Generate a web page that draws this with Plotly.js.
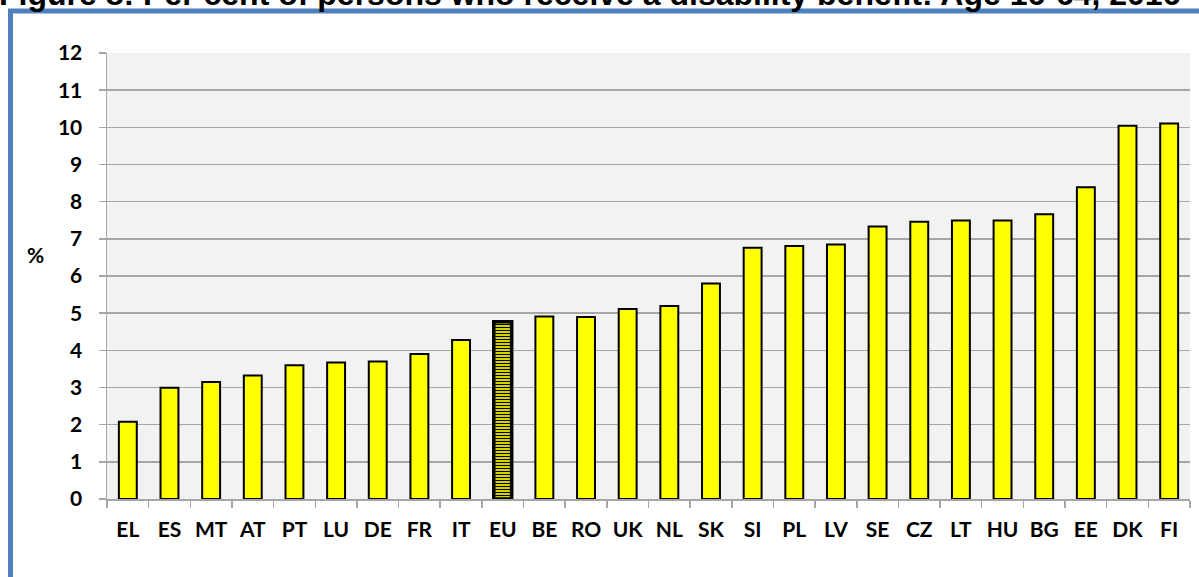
<!DOCTYPE html>
<html>
<head>
<meta charset="utf-8">
<script src="https://cdn.plot.ly/plotly-3.0.1.min.js"></script>
<style>
html,body{margin:0;padding:0;background:#fff;}
#chart{width:1199px;height:577px;}
</style>
</head>
<body>
<div id="chart"></div>
<script>
const countries = ["EL","ES","MT","AT","PT","LU","DE","FR","IT","EU","BE","RO","UK","NL","SK","SI","PL","LV","SE","CZ","LT","HU","BG","EE","DK","FI"];
const percentValues = [2.08,2.99,3.15,3.32,3.6,3.67,3.7,3.9,4.28,4.77,4.91,4.9,5.11,5.19,5.8,6.76,6.81,6.85,7.33,7.46,7.49,7.49,7.66,8.39,10.04,10.1];
const highlighted = "EU";
const titleText = "Figure 8: Per cent of persons who receive a disability benefit: Age 16-64, 2016";
const yTickValues = [0,1,2,3,4,5,6,7,8,9,10,11,12];

const patternShapes = countries.map(c => c === highlighted ? "-" : "");
const lineWidths = countries.map(c => c === highlighted ? 3.5 : 2);

const trace = {
  type: "bar",
  x: countries,
  y: percentValues,
  marker: {
    color: "#ffff00",
    line: {color: "#000000", width: lineWidths},
    pattern: {shape: patternShapes, fgcolor: "#000000", bgcolor: "#ffff00", size: 3, solidity: 0.45, fillmode: "replace"}
  },
  hoverinfo: "x+y"
};

const gridCol = "#a6a6a6";
const tickFont = {family: "Lato, 'Open Sans', sans-serif", size: 21, color: "#000000", weight: 700};

const layout = {
  width: 1199,
  height: 577,
  margin: {l: 107, r: 9, t: 53, b: 78, pad: 0},
  paper_bgcolor: "#ffffff",
  plot_bgcolor: "#f2f2f2",
  bargap: 0.57,
  showlegend: false,
  font: tickFont,
  xaxis: {
    type: "category",
    tickson: "boundaries",
    ticks: "outside",
    ticklen: 7,
    tickwidth: 1.5,
    tickcolor: gridCol,
    showline: true,
    linecolor: gridCol,
    linewidth: 1.5,
    showgrid: false,
    tickfont: tickFont,
    tickangle: 0,
    ticklabelstandoff: 11,
    fixedrange: true
  },
  yaxis: {
    range: [0, 12],
    tickvals: yTickValues,
    ticks: "outside",
    ticklen: 7,
    tickwidth: 1.5,
    tickcolor: gridCol,
    showline: true,
    linecolor: gridCol,
    linewidth: 1.5,
    showgrid: true,
    gridcolor: gridCol,
    gridwidth: 1.5,
    zeroline: false,
    tickfont: tickFont,
    ticklabelstandoff: 12,
    fixedrange: true
  },
  annotations: [
    {
      text: "%",
      xref: "paper", yref: "paper",
      x: -0.0656, y: 0.549,
      xanchor: "center", yanchor: "middle",
      showarrow: false,
      font: tickFont
    },
    {
      text: titleText,
      xref: "paper", yref: "paper",
      x: -0.1015, y: 1.0874,
      xanchor: "left", yanchor: "bottom",
      showarrow: false,
      font: {family: "'Liberation Sans', Arial, sans-serif", size: 32, color: "#000000", weight: 700}
    }
  ],
  shapes: [
    {
      type: "rect",
      xref: "paper", yref: "paper",
      x0: -0.0891, x1: 1.05,
      y0: -0.3, y1: 1.0942,
      line: {color: "#4f81bd", width: 5},
      fillcolor: "rgba(0,0,0,0)",
      layer: "above"
    }
  ]
};

Plotly.newPlot("chart", [trace], layout, {displayModeBar: false, staticPlot: true});
</script>
</body>
</html>
